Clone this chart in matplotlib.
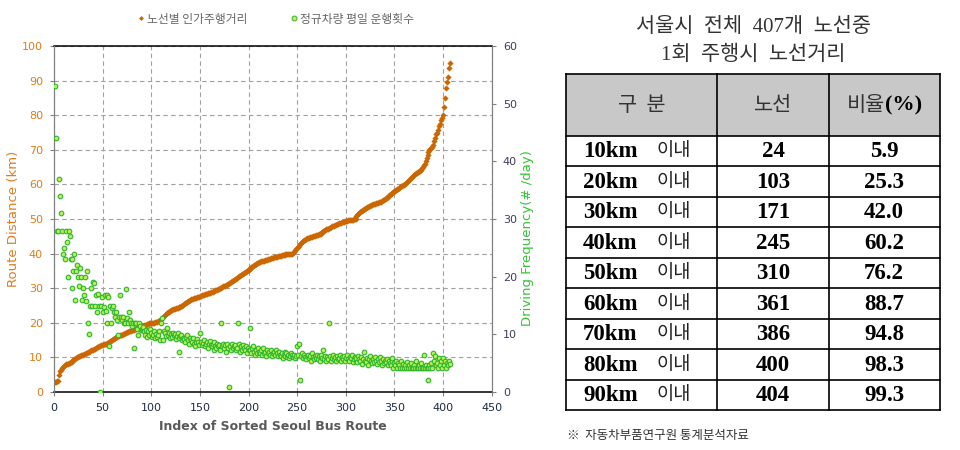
import numpy as np
import matplotlib
matplotlib.use("Agg")
import matplotlib.pyplot as plt
from matplotlib.lines import Line2D
from matplotlib.patches import Rectangle

# 노선별 인가주행거리 (km), 정렬된 노선 순서
distance_km = [
    3.0, 3.0, 3.1, 3.2, 5.0, 6.0, 6.5, 7.0, 7.2, 7.5,
    7.8, 8.0, 8.0, 8.2, 8.3, 8.5, 8.7, 8.8, 9.0, 9.2,
    9.4, 9.6, 9.8, 10.0, 10.2, 10.3, 10.5, 10.6, 10.7, 10.8,
    11.0, 11.1, 11.2, 11.3, 11.5, 11.6, 11.8, 12.0, 12.0, 12.1,
    12.3, 12.5, 12.7, 12.9, 13.0, 13.2, 13.3, 13.5, 13.6, 13.7,
    13.8, 13.9, 14.0, 14.0, 14.1, 14.2, 14.4, 14.6, 14.8, 15.0,
    15.2, 15.4, 15.6, 15.8, 16.0, 16.2, 16.3, 16.4, 16.5, 16.6,
    16.8, 16.9, 17.0, 17.1, 17.2, 17.4, 17.5, 17.6, 17.7, 17.8,
    17.9, 18.0, 18.1, 18.2, 18.4, 18.5, 18.6, 18.8, 18.9, 19.0,
    19.1, 19.2, 19.3, 19.4, 19.5, 19.6, 19.7, 19.8, 19.8, 19.9,
    19.9, 20.0, 20.0, 20.1, 20.2, 20.3, 20.4, 20.6, 20.8, 21.0,
    21.3, 21.6, 22.0, 22.3, 22.6, 22.8, 23.0, 23.2, 23.4, 23.6,
    23.8, 23.9, 24.0, 24.1, 24.2, 24.3, 24.4, 24.5, 24.6, 24.7,
    24.8, 25.0, 25.2, 25.4, 25.6, 25.8, 26.0, 26.2, 26.4, 26.6,
    26.8, 26.9, 27.0, 27.1, 27.2, 27.3, 27.4, 27.5, 27.6, 27.7,
    27.8, 27.9, 28.0, 28.1, 28.2, 28.3, 28.4, 28.5, 28.6, 28.7,
    28.8, 28.9, 29.0, 29.1, 29.3, 29.4, 29.5, 29.6, 29.8, 29.9,
    30.0, 30.2, 30.4, 30.5, 30.6, 30.7, 30.8, 31.0, 31.2, 31.4,
    31.6, 31.8, 32.0, 32.2, 32.4, 32.6, 32.8, 33.0, 33.2, 33.4,
    33.6, 33.8, 34.0, 34.2, 34.4, 34.6, 34.8, 35.0, 35.2, 35.4,
    35.6, 35.8, 36.0, 36.2, 36.4, 36.6, 36.8, 37.0, 37.2, 37.4,
    37.6, 37.7, 37.8, 37.9, 38.0, 38.0, 38.1, 38.2, 38.2, 38.3,
    38.4, 38.5, 38.6, 38.7, 38.8, 38.9, 39.0, 39.0, 39.1, 39.2,
    39.2, 39.3, 39.4, 39.5, 39.6, 39.7, 39.7, 39.8, 39.8, 39.9,
    39.9, 39.9, 40.0, 40.0, 40.0, 40.3, 40.6, 40.9, 41.2, 41.5,
    41.9, 42.3, 42.7, 43.1, 43.4, 43.6, 43.8, 44.0, 44.2, 44.4,
    44.5, 44.6, 44.7, 44.8, 44.9, 45.0, 45.1, 45.2, 45.3, 45.4,
    45.5, 45.6, 45.7, 45.8, 46.0, 46.2, 46.4, 46.6, 46.8, 47.0,
    47.1, 47.2, 47.3, 47.5, 47.7, 47.9, 48.0, 48.1, 48.2, 48.4,
    48.5, 48.6, 48.7, 48.8, 48.9, 49.0, 49.1, 49.2, 49.3, 49.4,
    49.5, 49.6, 49.6, 49.7, 49.7, 49.8, 49.8, 49.9, 49.9, 50.0,
    50.8, 51.2, 51.5, 51.8, 52.0, 52.2, 52.4, 52.6, 52.8, 53.0,
    53.2, 53.4, 53.6, 53.7, 53.8, 54.0, 54.1, 54.2, 54.3, 54.4,
    54.5, 54.6, 54.7, 54.8, 54.9, 55.0, 55.2, 55.4, 55.6, 55.8,
    56.0, 56.2, 56.5, 56.8, 57.0, 57.2, 57.4, 57.6, 57.8, 58.0,
    58.2, 58.4, 58.6, 58.8, 59.0, 59.2, 59.4, 59.6, 59.7, 59.8,
    60.0, 60.3, 60.6, 60.9, 61.2, 61.5, 61.8, 62.1, 62.4, 62.7,
    63.0, 63.2, 63.4, 63.6, 63.8, 64.0, 64.3, 64.6, 65.0, 65.5,
    66.0, 66.8, 67.5, 68.5, 69.3, 70.0, 70.3, 70.5, 70.8, 71.5,
    72.5, 73.5, 74.5, 75.0, 75.8, 76.8, 77.5, 78.5, 79.3, 80.0,
    82.5, 85.0, 88.0, 89.5, 91.0, 93.5, 95.0,
]

# 정규차량 평일 운행횟수 (#/day)
frequency = [
    53, 44, 28, 28, 37, 34, 31, 28, 24, 25,
    23, 28, 26, 20, 28, 27, 23, 18, 23, 21,
    24, 16, 21, 22, 20, 18.3, 21.5, 20, 16, 18,
    16.8, 20, 15.8, 21, 12, 10, 15, 18, 15, 19,
    18.9, 15, 16.8, 13.9, 17, 15, 0, 14.9, 16.5, 13.9,
    14.8, 16.8, 14, 11.9, 16.8, 16.5, 7.9, 14.9, 12, 14.6,
    15, 13.9, 13, 13.9, 12.5, 9.9, 13, 16.8, 13, 12.5,
    13, 12, 11.9, 17.8, 12.8, 11.9, 13.9, 12.5, 12, 11.5,
    11.9, 7.6, 12, 11.9, 11, 9.9, 11.9, 11.5, 10.7, 11,
    10.7, 11.2, 10.5, 9.9, 10.7, 9.5, 10.5, 9.9, 11, 10.2,
    9.5, 9.9, 10.5, 9.3, 10, 9.5, 9.9, 10.6, 9.0, 11.9,
    12.8, 9.0, 10.5, 10.3, 9.7, 11.1, 9.9, 10.3, 9.4, 10.0,
    9.5, 10.2, 9.9, 10.0, 9.2, 9.7, 10.3, 9.3, 7.0, 9.7,
    9.9, 9.0, 9.4, 9.2, 8.7, 9.5, 9.9, 9.0, 8.4, 9.3,
    9.0, 8.7, 9.4, 8.4, 7.9, 8.7, 9.2, 8.6, 8.2, 10.2,
    8.7, 8.1, 8.5, 9.0, 7.9, 8.4, 8.7, 7.6, 8.3, 8.9,
    8.1, 7.9, 8.4, 7.3, 8.7, 8.0, 7.6, 8.4, 7.9, 8.2,
    7.3, 11.9, 7.9, 8.4, 7.6, 8.1, 7.0, 8.4, 7.6, 0.9,
    7.9, 7.3, 8.4, 7.6, 7.9, 8.1, 7.3, 7.6, 11.9, 8.4,
    7.0, 7.9, 7.3, 8.1, 7.6, 7.3, 7.9, 6.8, 7.6, 7.3,
    11.1, 7.3, 6.8, 7.6, 7.9, 7.0, 6.5, 7.3, 6.8, 7.6,
    7.0, 6.8, 7.3, 6.5, 7.6, 6.8, 7.0, 6.2, 7.3, 6.8,
    7.0, 6.5, 7.3, 6.2, 6.8, 7.0, 6.5, 7.3, 6.8, 6.2,
    7.0, 6.5, 6.2, 6.8, 5.9, 6.5, 7.0, 6.2, 6.8, 6.0,
    6.5, 5.9, 6.2, 6.8, 6.5, 6.0, 6.5, 5.9, 6.2, 7.9,
    6.5, 8.4, 2.1, 6.2, 6.8, 5.9, 6.5, 6.0, 5.7, 6.2,
    6.5, 5.9, 6.2, 5.4, 6.8, 6.0, 5.7, 6.2, 5.9, 6.5,
    5.7, 6.2, 5.4, 6.0, 6.5, 5.9, 7.3, 5.7, 6.2, 5.4,
    6.0, 5.7, 11.9, 6.2, 5.4, 5.9, 6.5, 5.7, 6.0, 5.4,
    6.2, 5.7, 5.9, 6.5, 5.4, 6.0, 5.7, 6.2, 5.4, 5.9,
    6.5, 5.7, 5.4, 6.0, 5.9, 6.5, 5.2, 5.7, 6.0, 5.4,
    5.9, 5.2, 6.2, 5.7, 5.4, 6.0, 4.9, 5.7, 6.9, 5.4,
    5.2, 5.9, 4.6, 5.7, 6.2, 5.4, 5.0, 5.7, 5.2, 6.0,
    5.4, 4.9, 5.7, 5.2, 6.1, 5.4, 4.6, 5.7, 5.0, 5.4,
    5.2, 5.7, 4.6, 5.4, 5.0, 4.6, 5.4, 5.9, 4.2, 5.0,
    4.6, 5.4, 4.2, 5.0, 4.6, 4.2, 5.4, 4.2, 4.9, 4.2,
    4.6, 4.2, 5.2, 4.2, 4.6, 4.2, 5.0, 4.2, 4.2, 4.6,
    4.2, 5.4, 4.2, 4.2, 4.6, 4.2, 5.0, 4.2, 4.2, 6.5,
    4.2, 4.6, 4.2, 4.2, 2.1, 4.6, 4.2, 5.0, 4.2, 6.8,
    5.4, 6.3, 4.6, 5.0, 4.2, 5.9, 4.6, 5.4, 4.2, 5.9,
    4.6, 5.4, 4.2, 5.0, 4.6, 5.4, 4.8,
]

route_index = np.arange(1, len(distance_km) + 1)
freq_index = np.arange(1, len(frequency) + 1)

legend_labels = ["노선별 인가주행거리", "정규차량 평일 운행횟수"]

title_lines = ["서울시  전체  407개  노선중", "1회  주행시  노선거리"]
range_km = ["10km", "20km", "30km", "40km", "50km", "60km", "70km", "80km", "90km"]
route_count = [24, 103, 171, 245, 310, 361, 386, 400, 404]
route_ratio = [5.9, 25.3, 42.0, 60.2, 76.2, 88.7, 94.8, 98.3, 99.3]

KR = ["Noto Sans CJK KR", "DejaVu Sans"]
SERIF_KR = ["Liberation Serif", "Noto Sans CJK KR"]
ORANGE = "#cc6600"

fig = plt.figure(figsize=(9.6, 4.5), dpi=100)

# ---- 왼쪽 그래프 ----
ax = fig.add_axes([54 / 960, 58 / 450, 437.7 / 960, 346 / 450])
ax.scatter(route_index, distance_km, marker="D", s=10, color=ORANGE,
           linewidths=0, zorder=3)
ax.set_xlim(0, 450)
ax.set_ylim(0, 100)
ax.set_xticks(np.arange(0, 451, 50))
ax.set_yticks(np.arange(0, 101, 10))
ax.grid(True, linestyle=(0, (4, 3)), color="#a0a0a0", linewidth=0.8)
ax.set_axisbelow(True)
ax.tick_params(axis="y", colors="#808080", labelcolor="#e07b1a",
               labelsize=8, length=3, pad=5)
ax.tick_params(axis="x", colors="#808080", labelcolor="#1f2a44",
               labelsize=8, length=3, pad=5)
ax.spines["left"].set_color("#808080")
ax.spines["right"].set_color("#808080")
ax.spines["top"].set_color("black")
ax.spines["bottom"].set_color("black")
ax.spines["top"].set_linewidth(1.1)
ax.spines["bottom"].set_linewidth(1.1)

ax2 = ax.twinx()
ax2.scatter(freq_index, frequency, marker="o", s=11, facecolor="#b9f05a",
            edgecolor="#2fb52f", linewidths=0.8, zorder=4)
ax2.set_ylim(0, 60)
ax2.set_yticks(np.arange(0, 61, 10))
ax2.tick_params(axis="y", colors="#808080", labelcolor="#3c3c5a",
                labelsize=8, length=3, pad=5)
for s in ["left", "right"]:
    ax2.spines[s].set_color("#808080")
ax2.spines["top"].set_visible(False)
ax2.spines["bottom"].set_visible(False)

# 범례
handles = [
    Line2D([], [], linestyle="none", marker="D", markersize=2.5,
           color=ORANGE, markeredgewidth=0),
    Line2D([], [], linestyle="none", marker="o", markersize=3.5,
           markerfacecolor="#b9f05a", markeredgecolor="#2fb52f",
           markeredgewidth=0.7),
]
fig.legend(handles, legend_labels, loc="center", ncol=2,
           bbox_to_anchor=(275 / 960, 1 - 19 / 450), frameon=False,
           prop={"family": KR, "size": 8.5}, labelcolor="#666666",
           handletextpad=0.1, columnspacing=3.5, handlelength=0.8)

# ---- 글자와 표 (픽셀 좌표) ----
lay = fig.add_axes([0, 0, 1, 1])
lay.set_xlim(0, 960)
lay.set_ylim(450, 0)
lay.axis("off")

lay.text(14, 219, "Route Distance (km)", rotation=90, ha="center",
         va="center", fontsize=9.5, color="#e07b1a")
lay.text(527, 238, "Driving Frequency(# /day)", rotation=90, ha="center",
         va="center", fontsize=9.5, color="#33c433")
lay.text(273, 427, "Index of Sorted Seoul Bus Route", ha="center",
         va="center", fontsize=9, fontweight="bold", color="#595959")

# 표 제목
lay.text(753, 27, title_lines[0], ha="center", va="center", fontsize=15,
         family=SERIF_KR, color="#333333")
lay.text(753, 55, title_lines[1], ha="center", va="center", fontsize=15,
         family=SERIF_KR, color="#333333")

col_x = [566, 717, 829, 940]
row_y = [74, 135.5] + [135.5 + 30.5 * (i + 1) for i in range(len(range_km))]

lay.add_patch(Rectangle((col_x[0], row_y[0]), col_x[-1] - col_x[0],
                        row_y[1] - row_y[0], facecolor="#c8c8c8",
                        edgecolor="none"))
for y in row_y:
    lay.plot([col_x[0], col_x[-1]], [y, y], color="black", lw=1.2)
for x in col_x:
    lay.plot([x, x], [row_y[0], row_y[-1]], color="black", lw=1.2)

hy = (row_y[0] + row_y[1]) / 2
lay.text(642, hy, "구  분", ha="center", va="center", fontsize=15,
         family=KR, color="#333333")
lay.text(773, hy, "노선", ha="center", va="center", fontsize=15,
         family=KR, color="#333333")
lay.text(885, hy, "비율", ha="right", va="center", fontsize=15,
         family=KR, color="#333333")
lay.text(885, hy + 1, "(%)", ha="left", va="center", fontsize=16,
         family="Liberation Serif", fontweight="bold", color="black")

for i in range(len(range_km)):
    cy = row_y[i + 1] + 15.25
    lay.text(583, cy + 1, range_km[i], ha="left", va="center", fontsize=16.5,
             family="Liberation Serif", fontweight="bold", color="black")
    lay.text(657, cy, "이내", ha="left", va="center", fontsize=13.5,
             family=KR, color="#222222")
    lay.text(773, cy + 1, str(route_count[i]), ha="center", va="center",
             fontsize=16.5, family="Liberation Serif", fontweight="bold",
             color="black")
    lay.text(884, cy + 1, f"{route_ratio[i]:.1f}", ha="center", va="center",
             fontsize=16.5, family="Liberation Serif", fontweight="bold",
             color="black")

lay.text(567, 436, "※  자동차부품연구원 통계분석자료", ha="left", va="center",
         fontsize=9, family=KR, color="#333333")

fig.savefig("out.png", dpi=100)
